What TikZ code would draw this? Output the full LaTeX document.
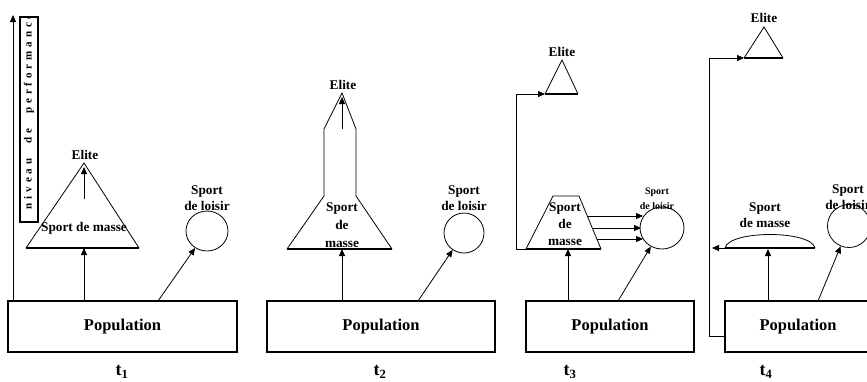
\documentclass[tikz,border=0pt]{standalone}
\usepackage{fontspec}
\setmainfont{Liberation Serif}
\usetikzlibrary{arrows.meta,shapes.geometric}

\tikzset{
  arr/.style={-{Triangle[length=7pt,width=6pt]},line width=0.8pt},
  fig/.style={line width=0.8pt,line join=miter},
  base/.style={line width=1.3pt},
  popbox/.style={draw,line width=1.6pt,minimum height=51pt,inner sep=0pt,
    font=\fontsize{16.5}{18}\selectfont\bfseries},
  lbl/.style={inner sep=0pt,align=center,font=\fontsize{13.3}{16}\selectfont\bfseries},
  smalllbl/.style={inner sep=0pt,align=center,font=\fontsize{10}{15}\selectfont\bfseries},
  loisir/.style={draw,ellipse,line width=0.8pt,inner sep=0pt},
  tlbl/.style={inner sep=0pt,font=\fontsize{18}{20}\selectfont\bfseries}
}
\newcommand\ls{\hspace{3.9pt}}

\begin{document}
\begin{tikzpicture}[x=1pt,y=-1pt]
  \useasboundingbox (0,0) rectangle (867,381);
  \clip (0,0) rectangle (867,381);

  % t1
  \node[popbox,minimum width=229pt] (pop1) at (122.5,326.5) {Population};
  \node[tlbl] (t1) at (122,372) {t\textsubscript{1}};
  \coordinate (ax0) at (13,301);
  \coordinate (ax1) at (13,15);
  \draw[arr] (ax0) -- (ax1);
  \node[draw,line width=1.2pt,minimum width=205pt,minimum height=18pt,rotate=90] (nivbox) at (29,119.5) {};
  \begin{scope}
    \clip (20,17) rectangle (38,222);
    \node[rotate=90,anchor=west,inner sep=0pt,font=\fontsize{11}{12}\selectfont\bfseries] (nivtxt) at (29,209.5)
      {n\ls i\ls v\ls e\ls a\ls u\hspace{15pt}d\ls e\hspace{15pt}p\ls e\ls r\ls f\ls o\ls r\ls m\ls a\ls n\ls c\ls e};
  \end{scope}
  \coordinate (apex1) at (84,163);
  \coordinate (bl1) at (26,248);
  \coordinate (br1) at (139,248);
  \draw[fig] (bl1) -- (apex1) -- (br1);
  \draw[base] (bl1) -- (br1);
  \node[lbl] (elite1) at (85,155) {Elite};
  \node[lbl] (masse1) at (84,228) {Sport de masse};
  \coordinate (in1) at (84,199);
  \coordinate (in1b) at (84,167);
  \draw[arr] (in1) -- (in1b);
  \draw[arr] (apex1 |- pop1.north) -- (apex1 |- bl1);
  \node[loisir,minimum width=42pt,minimum height=40pt] (cl1) at (207,231) {};
  \node[lbl] (sl1) at (207,198) {Sport\\de loisir};
  \coordinate (s1) at (158,301);
  \draw[arr] (s1) -- (cl1);

  % t2
  \node[popbox,minimum width=228pt] (pop2) at (381,326.5) {Population};
  \node[tlbl] (t2) at (380,372) {t\textsubscript{2}};
  \coordinate (apex2) at (342,93);
  \coordinate (bl2) at (287,249);
  \coordinate (br2) at (392,249);
  \draw[fig] (bl2) -- (324,196) -- (324,129) -- (apex2) -- (356,129) -- (356,196) -- (br2);
  \draw[base] (bl2) -- (br2);
  \node[lbl] (elite2) at (343,85) {Elite};
  \node[lbl] (masse2) at (342,225) {Sport\\[2pt]de\\[2pt]masse};
  \coordinate (in2) at (342,129);
  \coordinate (in2b) at (342,97);
  \draw[arr] (in2) -- (in2b);
  \draw[arr] (apex2 |- pop2.north) -- (apex2 |- bl2);
  \node[loisir,minimum width=40pt,minimum height=40pt] (cl2) at (464,233) {};
  \node[lbl] (sl2) at (464,198) {Sport\\de loisir};
  \coordinate (s2) at (418,301);
  \draw[arr] (s2) -- (cl2);

  % t3
  \node[popbox,minimum width=168pt] (pop3) at (610,326.5) {Population};
  \node[tlbl] (t3) at (570,372) {t\textsubscript{3}};
  \coordinate (apex3) at (562,60);
  \coordinate (tl3) at (545,94);
  \coordinate (tr3) at (578,94);
  \draw[fig] (tl3) -- (apex3) -- (tr3);
  \draw[base] (tl3) -- (tr3);
  \node[lbl] (elite3) at (562,52) {Elite};
  \coordinate (bl3) at (526,249);
  \coordinate (br3) at (601,249);
  \coordinate (mb3) at (568,249);
  \draw[fig] (bl3) -- (553,196) -- (579,196) -- (br3);
  \draw[base] (bl3) -- (br3);
  \node[lbl] (masse3) at (565,224.5) {Sport\\[1pt]de\\[1pt]masse};
  \draw[arr] (bl3) -- ++(-10,0) |- (tl3);
  \draw[arr] (mb3 |- pop3.north) -- (mb3);
  \node[loisir,minimum width=44pt,minimum height=42pt] (cl3) at (662,228) {};
  \node[smalllbl] (sl3) at (657,198.5) {Sport\\de loisir};
  \coordinate (r31) at (587,216);
  \coordinate (r32) at (592,228);
  \coordinate (r33) at (597,239);
  \coordinate (e31) at (643,216);
  \coordinate (e32) at (641,228);
  \coordinate (e33) at (643,239);
  \draw[arr] (r31) -- (e31);
  \draw[arr] (r32) -- (e32);
  \draw[arr] (r33) -- (e33);
  \coordinate (s3) at (618,301);
  \draw[arr] (s3) -- (cl3);

  % t4
  \node[popbox,minimum width=146pt] (pop4) at (798,326.5) {Population};
  \node[tlbl] (t4) at (766,372) {t\textsubscript{4}};
  \coordinate (apex4) at (764,27);
  \coordinate (tl4) at (744,58);
  \coordinate (tr4) at (783,58);
  \draw[fig] (tl4) -- (apex4) -- (tr4);
  \draw[base] (tl4) -- (tr4);
  \node[lbl] (elite4) at (764,18) {Elite};
  \coordinate (p4l) at ([yshift=-9.5pt]pop4.west);
  \draw[arr] (p4l) -- ++(-15,0) |- (tl4);
  \coordinate (dl4) at (725,248);
  \coordinate (dr4) at (815,248);
  \coordinate (mb4) at (768,249);
  \draw[fig] (dl4) .. controls (729,230) and (811,230) .. (dr4);
  \draw[base] (dl4) -- (dr4);
  \draw[arr] (dl4) -- ++(-13,0);
  \node[lbl] (masse4) at (765,215) {Sport\\de masse};
  \draw[arr] (mb4 |- pop4.north) -- (mb4);
  \node[loisir,minimum width=43pt,minimum height=43pt] (cl4) at (849,226) {};
  \node[lbl] (sl4) at (848,197.5) {Sport\\de loisir};
  \coordinate (s4) at (818,301);
  \draw[arr] (s4) -- (cl4);
\end{tikzpicture}
\end{document}
